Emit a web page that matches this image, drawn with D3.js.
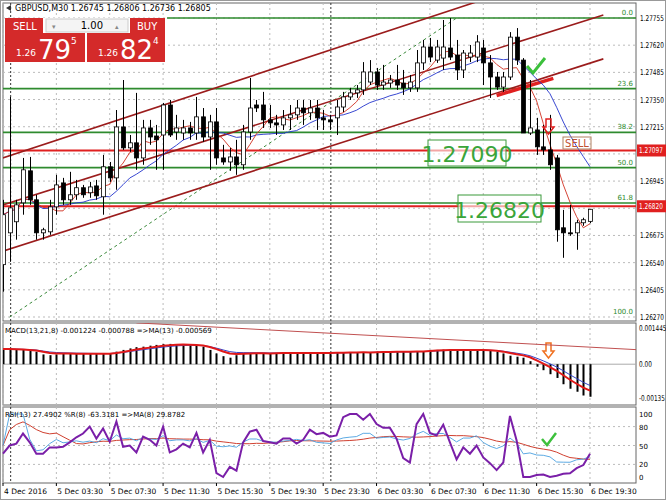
<!DOCTYPE html>
<html><head><meta charset="utf-8">
<script src="https://cdn.jsdelivr.net/npm/d3@7"></script>
<style>
body{margin:0;background:#fff;}
svg text{font-family:"DejaVu Sans",sans-serif;}
</style></head><body>
<svg id="c" width="666" height="500"></svg>
<script>
// GBPUSD M30 bars, 4 Dec 23:30 .. 6 Dec 19:30
var opens = [1.26530,1.26688,1.26743,1.26837,1.26996,1.26852,1.26688,1.26693,1.26817,1.26936,1.26852,1.26877,1.26912,1.26887,1.26921,1.26867,1.27016,1.26961,1.27214,1.27110,1.27135,1.27060,1.27209,1.27169,1.27174,1.27323,1.27189,1.27184,1.27209,1.27184,1.27264,1.27164,1.27239,1.27060,1.27040,1.27065,1.27026,1.27189,1.27323,1.27323,1.27249,1.27234,1.27224,1.27259,1.27274,1.27308,1.27284,1.27308,1.27259,1.27249,1.27259,1.27313,1.27363,1.27383,1.27398,1.27437,1.27487,1.27422,1.27432,1.27447,1.27432,1.27408,1.27408,1.27532,1.27611,1.27546,1.27556,1.27606,1.27571,1.27497,1.27561,1.27561,1.27606,1.27532,1.27462,1.27412,1.27462,1.27660,1.27546,1.27184,1.27199,1.27115,1.27100,1.27060,1.26713,1.26688,1.26688,1.26738,1.26745];
var highs = [1.26852,1.27363,1.26852,1.27060,1.27065,1.26877,1.26713,1.26852,1.26976,1.26961,1.26991,1.26951,1.26926,1.26941,1.26951,1.27075,1.27040,1.27298,1.27447,1.27174,1.27383,1.27249,1.27249,1.27224,1.27333,1.27348,1.27274,1.27249,1.27239,1.27363,1.27308,1.27274,1.27308,1.27125,1.27110,1.27150,1.27224,1.27457,1.27348,1.27388,1.27323,1.27274,1.27298,1.27323,1.27348,1.27348,1.27348,1.27348,1.27298,1.27274,1.27348,1.27388,1.27408,1.27422,1.27536,1.27546,1.27507,1.27522,1.27472,1.27522,1.27497,1.27472,1.27596,1.27646,1.27656,1.27646,1.27745,1.27755,1.27646,1.27596,1.27621,1.27670,1.27646,1.27571,1.27487,1.27487,1.27685,1.27705,1.27556,1.27447,1.27259,1.27224,1.27274,1.27075,1.26802,1.26827,1.26753,1.26763,1.26806];
var lows = [1.26396,1.26544,1.26654,1.26778,1.26827,1.26654,1.26654,1.26678,1.26778,1.26827,1.26827,1.26852,1.26862,1.26862,1.26852,1.26778,1.26941,1.26902,1.27100,1.27090,1.27001,1.27026,1.27125,1.27001,1.27001,1.27164,1.27150,1.27150,1.27150,1.27150,1.27140,1.27001,1.27026,1.27026,1.26996,1.26976,1.27001,1.27150,1.27288,1.27209,1.27209,1.27174,1.27199,1.27199,1.27249,1.27224,1.27249,1.27199,1.27199,1.27199,1.27174,1.27288,1.27348,1.27358,1.27373,1.27422,1.27398,1.27398,1.27408,1.27398,1.27373,1.27388,1.27388,1.27497,1.27536,1.27532,1.27497,1.27546,1.27447,1.27457,1.27536,1.27536,1.27422,1.27358,1.27398,1.27388,1.27447,1.27522,1.27184,1.27174,1.27075,1.27075,1.27001,1.26644,1.26564,1.26673,1.26604,1.26723,1.26736];
var closes = [1.26778,1.26812,1.26827,1.27001,1.26852,1.26688,1.26703,1.26817,1.26926,1.26852,1.26877,1.26912,1.26877,1.26916,1.26872,1.27016,1.26961,1.27214,1.27110,1.27135,1.27060,1.27209,1.27164,1.27150,1.27323,1.27174,1.27209,1.27209,1.27184,1.27264,1.27164,1.27239,1.27060,1.27040,1.27065,1.27026,1.27189,1.27308,1.27308,1.27249,1.27234,1.27224,1.27259,1.27274,1.27308,1.27284,1.27308,1.27259,1.27249,1.27239,1.27313,1.27363,1.27383,1.27398,1.27487,1.27487,1.27422,1.27437,1.27447,1.27422,1.27408,1.27437,1.27532,1.27611,1.27561,1.27611,1.27611,1.27561,1.27497,1.27581,1.27581,1.27636,1.27532,1.27462,1.27412,1.27462,1.27660,1.27546,1.27184,1.27209,1.27115,1.27100,1.27026,1.26703,1.26688,1.26683,1.26738,1.26753,1.26805];
var macdHist = [0.00061,0.00059,0.00058,0.00057,0.00054,0.00050,0.00039,0.00036,0.00039,0.00041,0.00042,0.00042,0.00042,0.00042,0.00042,0.00042,0.00042,0.00050,0.00057,0.00063,0.00068,0.00070,0.00074,0.00077,0.00080,0.00081,0.00080,0.00080,0.00078,0.00074,0.00070,0.00057,0.00043,0.00032,0.00026,0.00036,0.00043,0.00045,0.00045,0.00044,0.00042,0.00045,0.00046,0.00045,0.00044,0.00045,0.00046,0.00045,0.00044,0.00045,0.00047,0.00047,0.00048,0.00047,0.00048,0.00047,0.00050,0.00050,0.00050,0.00051,0.00050,0.00050,0.00052,0.00052,0.00057,0.00057,0.00058,0.00058,0.00057,0.00058,0.00057,0.00057,0.00056,0.00053,0.00050,0.00043,0.00034,0.00030,0.00026,0.00012,-0.00010,-0.00024,-0.00040,-0.00055,-0.00080,-0.00098,-0.00110,-0.00125,-0.00130];
var pctR = [37,50,53,69,55,37,37,47,47,48,55,63,69,80,61,77,56,88,48,50,39,64,59,50,80,39,44,53,47,70,39,59,6,0,16,10,55,72,75,57,55,53,61,61,53,59,75,68,70,64,66,95,100,100,91,100,84,78,78,61,30,23,84,100,70,66,83,55,28,47,37,50,31,22,11,23,97,58,0,0,3,4,0,2,5,6,14,19,37];
var timeLabels = ["4 Dec 2016","5 Dec 03:30","5 Dec 07:30","5 Dec 11:30","5 Dec 15:30","5 Dec 19:30","5 Dec 23:30","6 Dec 03:30","6 Dec 07:30","6 Dec 11:30","6 Dec 15:30","6 Dec 19:30"];
var priceTicks = [1.27755,1.27620,1.27485,1.27350,1.27215,1.27080,1.26945,1.26810,1.26675,1.26540,1.26405,1.26270];
var fibLevels = [["0.0",1.27755],["23.6",1.27404],["38.2",1.27187],["50.0",1.27012],["61.8",1.26836],["100.0",1.26270]];
var redLevels = [1.27097,1.26820];
// channel: [bar index, price] at two ends of each parallel line
var channel = [[[-1,1.27049],[90,1.28043]],[[-1,1.26816],[90,1.27770]],[[-1,1.26587],[90,1.27552]]];

var svg = d3.select('#c');
var L = 3, R = 636;
var x = d3.scaleLinear().domain([0, 88]).range([3, 590]);
var y = d3.scaleLinear().domain([1.26270, 1.27755]).range([317, 18]);
var yM = d3.scaleLinear().domain([-0.00135, 0.001445]).range([398, 328]);
var yR = d3.scaleLinear().domain([0, 100]).range([477, 414]);

svg.append('rect').attr('x',0.5).attr('y',0.5).attr('width',665).attr('height',499).attr('fill','#fff').attr('stroke','#999');

// panels
var panels = [[3,321],[323,405],[407,483]];
panels.forEach(function(p){
  svg.append('rect').attr('x',L).attr('y',p[0]).attr('width',R-L).attr('height',p[1]-p[0])
    .attr('fill','none').attr('stroke','#666');
});

// grid
var gx = d3.range(0, 89, 8);
gx.forEach(function(i){
  panels.forEach(function(p){
    svg.append('line').attr('x1',x(i)).attr('x2',x(i)).attr('y1',p[0]).attr('y2',p[1])
      .attr('stroke','#bbb').attr('stroke-dasharray','2,3');
  });
});
[1,49].forEach(function(i){
  panels.forEach(function(p){
    svg.append('line').attr('x1',x(i)+1).attr('x2',x(i)+1).attr('y1',p[0]).attr('y2',p[1])
      .attr('stroke','#333').attr('stroke-dasharray','2,2');
  });
});
priceTicks.forEach(function(t){
  svg.append('line').attr('x1',L).attr('x2',R).attr('y1',y(t)).attr('y2',y(t))
    .attr('stroke','#bbb').attr('stroke-dasharray','2,3');
});
[yR(80),yR(50),yR(20)].forEach(function(v){
  svg.append('line').attr('x1',L).attr('x2',R).attr('y1',v).attr('y2',v).attr('stroke','#bbb').attr('stroke-dasharray','2,3');
});

var main = svg.append('g');
main.append('clipPath').attr('id','cm').append('rect').attr('x',L).attr('y',3).attr('width',R-L).attr('height',318);
var g = main.append('g').attr('clip-path','url(#cm)');

// fib trend (dotted green)
g.append('line').attr('x1',x(1)).attr('y1',y(1.26270)).attr('x2',x(68)).attr('y2',y(1.27755))
  .attr('stroke','#3a8a3a').attr('stroke-dasharray','3,3');

// fib levels
fibLevels.forEach(function(f){
  if (f[0] !== '100.0') g.append('line').attr('x1',f[0]==='0.0'?167:L).attr('x2',R).attr('y1',y(f[1])).attr('y2',y(f[1]))
    .attr('stroke','#2e8b2e').attr('stroke-width',1.6);
  svg.append('text').attr('x',R-3).attr('y',y(f[1])-3).attr('text-anchor','end')
    .attr('font-size',7).attr('fill','#2e8b2e').text(f[0]);
});
redLevels.forEach(function(v){
  g.append('line').attr('x1',L).attr('x2',R).attr('y1',y(v)).attr('y2',y(v))
    .attr('stroke','#e02020').attr('stroke-width',2);
});

// channel
channel.forEach(function(c){
  g.append('line').attr('x1',x(c[0][0])).attr('y1',y(c[0][1])).attr('x2',x(c[1][0])).attr('y2',y(c[1][1]))
    .attr('stroke','#9b1c1c').attr('stroke-width',1.6);
});
g.append('line').attr('x1',x(74)).attr('y1',y(1.27370)).attr('x2',x(82.5)).attr('y2',y(1.27455))
  .attr('stroke','#e02020').attr('stroke-width',3.5);

// moving averages on price
function sma(a,n){ return a.map(function(v,i){ var s=a.slice(Math.max(0,i-n+1),i+1); return d3.mean(s); }); }
var maFast = sma(closes,5), maSlow = sma(closes,13);
var ln = d3.line().x(function(d,i){return x(i);}).y(function(d){return y(d);});
g.append('path').attr('d',ln(maSlow)).attr('fill','none').attr('stroke','#2233cc').attr('stroke-width',0.9);
g.append('path').attr('d',ln(maFast)).attr('fill','none').attr('stroke','#d03020').attr('stroke-width',0.9);

// candles
var idx = d3.range(closes.length);
g.selectAll('.wick').data(idx).enter().append('line')
  .attr('x1',function(i){return Math.round(x(i))+0.5;}).attr('x2',function(i){return Math.round(x(i))+0.5;})
  .attr('y1',function(i){return y(highs[i]);}).attr('y2',function(i){return y(lows[i]);})
  .attr('stroke','#000');
g.selectAll('.body').data(idx).enter().append('rect')
  .attr('x',function(i){return Math.round(x(i))-1.5;}).attr('width',4)
  .attr('y',function(i){return y(Math.max(opens[i],closes[i]));})
  .attr('height',function(i){return Math.max(1,Math.abs(y(opens[i])-y(closes[i])));})
  .attr('fill',function(i){return closes[i]>=opens[i]?'#fff':'#000';}).attr('stroke','#000').attr('stroke-width',0.8);

// annotations
function box(tx,ty,w,h,txt,fs){
  svg.append('rect').attr('x',tx).attr('y',ty).attr('width',w).attr('height',h).attr('fill','#fff').attr('fill-opacity',0.6).attr('stroke','#3a9a3a');
  svg.append('text').attr('x',tx+w/2).attr('y',ty+h-4).attr('text-anchor','middle').attr('font-size',fs).attr('fill','#3aa53a').text(txt);
}
box(428,140,78,26,'1.27090',22);
box(458,195,83,27,'1.26820',22);
svg.append('rect').attr('x',563).attr('y',137).attr('width',28).attr('height',12).attr('fill','none').attr('stroke','#b08060');
svg.append('text').attr('x',577).attr('y',147).attr('text-anchor','middle').attr('font-size',10).attr('fill','#c05030').text('SELL');
svg.append('path').attr('d','M546,119 h5 v8 h3 l-5.5,7 l-5.5,-7 h3 z').attr('fill','none').attr('stroke','#e02020').attr('stroke-width',1.5);
svg.append('path').attr('d','M527,66 l6,7 l12,-15').attr('fill','none').attr('stroke','#3cc03c').attr('stroke-width',3);
svg.append('path').attr('d','M546,343 h5 v8 h3 l-5.5,7 l-5.5,-7 h3 z').attr('fill','none').attr('stroke','#f07020').attr('stroke-width',1.5);
svg.append('path').attr('d','M542,439 l5,6 l9,-12').attr('fill','none').attr('stroke','#3cc03c').attr('stroke-width',2.5);

// price axis (narrowed so the labels fit the strip)
function axisText(tx,ty,s,col){
  return svg.append('text').attr('transform','translate('+tx+','+ty+') scale(0.72,1)')
    .attr('font-size',8).attr('fill',col||'#000').text(s);
}
priceTicks.forEach(function(t){
  if (t===1.27080 || t===1.26810) return;
  axisText(640,y(t)+3,t.toFixed(5));
});
redLevels.forEach(function(v){
  svg.append('rect').attr('x',637).attr('y',y(v)-6).attr('width',29).attr('height',12).attr('fill','#e02020');
  axisText(639,y(v)+3,v.toFixed(5),'#fff');
});

// header + trade widget
svg.append('path').attr('d','M6,8 l5,-3 v6 z').attr('fill','#333');
svg.append('text').attr('x',15).attr('y',11).attr('font-size',8).attr('fill','#000').text('GBPUSD,M30  1.26745 1.26806 1.26736 1.26805');
svg.append('rect').attr('x',5).attr('y',18).attr('width',160).attr('height',45).attr('fill','#fff');
svg.append('rect').attr('x',5).attr('y',18).attr('width',38).attr('height',15).attr('fill','#d42a2a');
svg.append('rect').attr('x',130).attr('y',18).attr('width',35).attr('height',15).attr('fill','#d42a2a');
svg.append('rect').attr('x',5).attr('y',33).attr('width',80).attr('height',29).attr('fill','#d42a2a');
svg.append('rect').attr('x',87).attr('y',33).attr('width',78).attr('height',29).attr('fill','#d42a2a');
svg.append('rect').attr('x',46).attr('y',19).attr('width',82).attr('height',13).attr('fill','#f4f4f4').attr('stroke','#ccc');
svg.append('text').attr('x',13).attr('y',30).attr('font-size',10).attr('fill','#fff').text('SELL');
svg.append('text').attr('x',137).attr('y',30).attr('font-size',10).attr('fill','#fff').text('BUY');
svg.append('text').attr('x',103).attr('y',29).attr('text-anchor','end').attr('font-size',10).attr('fill','#000').text('1.00');
svg.append('text').attr('x',52).attr('y',29).attr('font-size',7).attr('fill','#888').text('▾');
svg.append('text').attr('x',115).attr('y',29).attr('font-size',7).attr('fill','#888').text('▴');
[[16,'79','5'],[98,'82','4']].forEach(function(q){
  svg.append('text').attr('x',q[0]).attr('y',56).attr('font-size',9).attr('fill','#fff').text('1.26');
  svg.append('text').attr('x',q[0]+22).attr('y',59).attr('font-size',26).attr('fill','#fff').text(q[1]);
  svg.append('text').attr('x',q[0]+55).attr('y',44).attr('font-size',9).attr('fill','#fff').text(q[2]);
});

// MACD panel
function ema(a,n){ var k=2/(n+1), out=[], p=a[0]; a.forEach(function(v){ p=v*k+p*(1-k); out.push(p); }); return out; }
var macdBlue = ema(macdHist,8), macdRed = ema(macdHist,5);
var gm = svg.append('g');
gm.append('clipPath').attr('id','cmacd').append('rect').attr('x',L).attr('y',323).attr('width',R-L).attr('height',82);
var gmc = gm.append('g').attr('clip-path','url(#cmacd)');
gmc.append('line').attr('x1',L).attr('x2',R).attr('y1',yM(0)).attr('y2',yM(0)).attr('stroke','#aaa');
gmc.selectAll('.h').data(idx).enter().append('rect')
  .attr('x',function(i){return Math.round(x(i))-0.5;}).attr('width',2)
  .attr('y',function(i){return Math.min(yM(0),yM(macdHist[i]));})
  .attr('height',function(i){return Math.abs(yM(macdHist[i])-yM(0));}).attr('fill','#000');
gmc.append('line').attr('x1',x(20)).attr('y1',yM(0.00165)).attr('x2',x(95)).attr('y2',yM(0.00058)).attr('stroke','#c05050');
var lm = d3.line().x(function(d,i){return x(i);}).y(function(d){return yM(d);});
gmc.append('path').attr('d',lm(macdBlue)).attr('fill','none').attr('stroke','#3344cc').attr('stroke-width',1);
gmc.append('path').attr('d',lm(macdRed)).attr('fill','none').attr('stroke','#e01818').attr('stroke-width',2);
svg.append('text').attr('x',5).attr('y',333).attr('font-size',7).text('MACD(13,21,8) -0.001224 -0.000788  =>MA(13) -0.000569');
[['0.001445',0.001445],['0.00',0],['-0.00135',-0.00135]].forEach(function(t){
  axisText(639,yM(t[1])+3,t[0]);
});

// RSI panel: RSI(13) from closes, MA(8) of it, %R shown +100
var rsi = [], ag = 0, al = 0;
closes.forEach(function(c,i){
  if (i===0){ rsi.push(50); return; }
  var d = c-closes[i-1], n = Math.min(i,13);
  ag = (ag*(n-1)+Math.max(d,0))/n; al = (al*(n-1)+Math.max(-d,0))/n;
  rsi.push(al===0?100:100-100/(1+ag/al));
});
var rsiMa = sma(rsi,8);
var lr = d3.line().x(function(d,i){return x(i);}).y(function(d){return yR(d);});
svg.append('path').attr('d',lr(rsiMa)).attr('fill','none').attr('stroke','#d04030').attr('stroke-width',1);
svg.append('path').attr('d',lr(rsi)).attr('fill','none').attr('stroke','#4aa0e0').attr('stroke-width',0.9);
svg.append('path').attr('d',lr(pctR)).attr('fill','none').attr('stroke','#7a1fa8').attr('stroke-width',2);
svg.append('text').attr('x',5).attr('y',417).attr('font-size',7).text('RSI(13) 27.4902  %R(8) -63.3181  =>MA(8) 29.8782');
[100,80,50,20,0].forEach(function(t){
  svg.append('text').attr('x',639).attr('y',yR(t)+3).attr('font-size',7).text(t);
});

// time axis
timeLabels.forEach(function(t,k){
  var xi = x(k*8);
  svg.append('line').attr('x1',xi).attr('x2',xi).attr('y1',483).attr('y2',486).attr('stroke','#000');
  svg.append('text').attr('x',xi+1).attr('y',494).attr('font-size',7.5).text(t);
});
</script>
</body></html>
